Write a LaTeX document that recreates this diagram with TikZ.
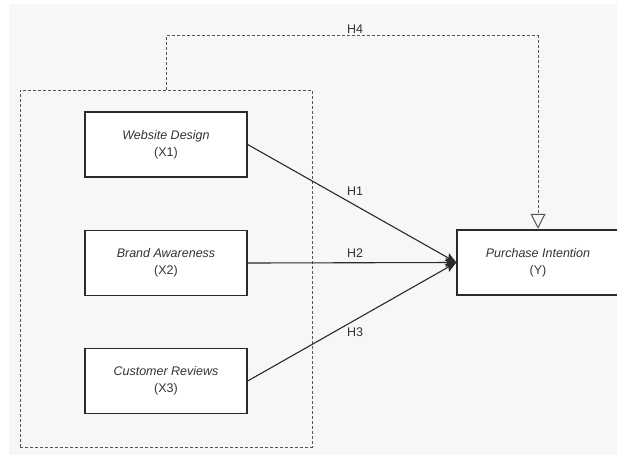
\documentclass[tikz,border=0pt]{standalone}
\usepackage{fontspec}
\setmainfont{Liberation Sans}
\usetikzlibrary{arrows.meta}
\definecolor{bggray}{HTML}{F7F7F7}
\definecolor{txt}{HTML}{333333}
\definecolor{edge}{HTML}{2A2A2A}
\definecolor{dashc}{HTML}{555555}
\begin{document}
\begin{tikzpicture}[x=1pt,y=-1pt,
  varbox/.style={draw=edge, line width=1.3pt, fill=white, minimum width=162pt, minimum height=65pt,
    inner sep=0pt, align=center, text=txt, font=\fontsize{12.5}{17}\selectfont},
  grpbox/.style={draw=dashc, line width=1pt, dash pattern=on 3pt off 2pt, minimum width=292pt, minimum height=357pt, inner sep=0pt},
  hlabel/.style={text=txt, font=\fontsize{12.5}{15}\selectfont, inner sep=0pt},
  link/.style={draw=edge, line width=1.1pt, -{Stealth[length=11pt,width=9pt,inset=2pt]}},
  dlink/.style={draw=dashc, line width=1pt, dash pattern=on 3pt off 2pt, -{Triangle[open,length=15pt,width=15pt,fill=bggray]}}
]
\useasboundingbox (0,0) rectangle (617,455);
\fill[white] (0,0) rectangle (617,455);
\fill[bggray] (9,4) rectangle (617,455);

\node[grpbox] (grp) at (166,268.5) {};
\node[varbox] (x1) at (166,144.5) {{\itshape Website Design}\\(X1)};
\node[varbox] (x2) at (166,263) {{\itshape Brand Awareness}\\(X2)};
\node[varbox] (x3) at (166,381) {{\itshape Customer Reviews}\\(X3)};
\node[varbox] (y) at (538,262.5) {{\itshape Purchase Intention}\\(Y)};

\draw[link] (x1.east) -- (y.west);
\draw[link] (x2.east) -- (y.west);
\draw[link] (x3.east) -- (y.west);
\draw[dlink] (grp.north) -- ++(0,-54) -| ([yshift=0.6pt]y.north);

\node[hlabel] (h1) at (355,191.5) {H1};
\node[hlabel] (h2) at (355,253) {H2};
\node[hlabel] (h3) at (355,332.5) {H3};
\node[hlabel] (h4) at (355,29.5) {H4};
\end{tikzpicture}
\end{document}
